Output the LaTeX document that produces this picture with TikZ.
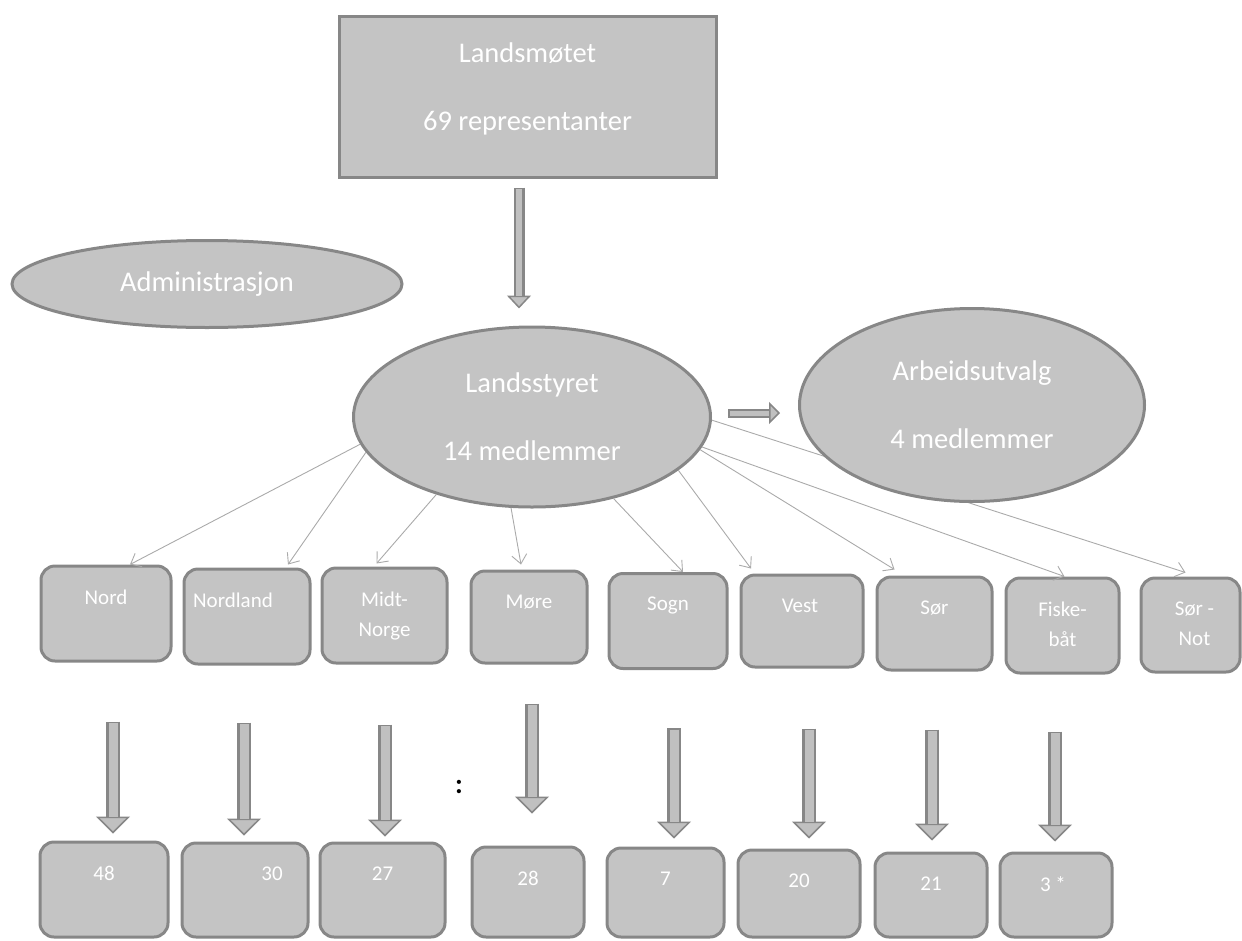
\documentclass[tikz,border=0pt]{standalone}
\usepackage{fontspec}
\setmainfont{Carlito}
\usetikzlibrary{arrows.meta,positioning,shapes.geometric}
\definecolor{orgfill}{RGB}{196,196,196}
\definecolor{orgline}{RGB}{135,135,135}
\definecolor{orgarrow}{RGB}{192,192,192}
\definecolor{orgthin}{RGB}{170,170,170}

\begin{document}
\begin{tikzpicture}[x=1pt, y=-1pt, >=Stealth,
  avd/.style={draw=orgline, fill=orgfill, line width=3pt, rounded corners=14pt, inner sep=0pt, minimum height=95pt},
  hub/.style={ellipse, draw=orgline, fill=orgfill, line width=3pt, inner sep=0pt, text=white, align=center, font=\fontsize{28.5}{34}\selectfont},
  lbl/.style={anchor=north, yshift=-25pt, inner sep=0pt, text=white, align=center, font=\fontsize{21}{30}\selectfont},
  feed/.style={draw=orgthin, line width=0.9pt, -{Straight Barb[length=9pt,width=15pt]}},
  blockarr/.style n args={4}{draw=orgline, line width=#1, -{Triangle[length=#4,width=#3,line width=1.5pt,fill=orgarrow]},
    postaction={draw=orgarrow, line width=#2, -, shorten >=#4, shorten <=1.5pt}},
  fat/.style={blockarr={14pt}{9pt}{34pt}{17pt}}]
  \useasboundingbox (0,0) rectangle (1242,940);
  % Landsmøtet
  \node[draw=orgline, fill=orgfill, line width=3pt, minimum width=377pt, minimum height=161pt,
    label={[text=white, align=center, font=\fontsize{28.5}{34}\selectfont, yshift=8pt]center:Landsmøtet\\[34pt]69 representanter}]
    (moete) at (527.5,96.5) {};
  \node[hub, minimum width=390pt, minimum height=87pt] (admin) at (207,284) {Administrasjon};
  \node[hub, minimum width=357pt, minimum height=180pt] (styret) at (532,417) {Landsstyret\\[34pt]14 medlemmer};
  \draw[blockarr={11pt}{6pt}{24pt}{13pt}] ([xshift=-8.5pt,yshift=-9pt]moete.south) -- ([xshift=-13pt,yshift=17pt]styret.north);
  % regioner
  \node[avd, minimum width=130pt, label={[lbl]north:Nord}] (nord) at (106,613.5) {};
  \node[avd, minimum width=126pt, label={[lbl,xshift=-14pt]north:Nordland}] (nordland) at (247,616.5) {};
  \node[avd, minimum width=125pt, label={[lbl]north:Midt-\\Norge}] (midt) at (384.5,615.5) {};
  \node[avd, minimum width=116pt, minimum height=92pt, label={[lbl]north:Møre}] (more) at (529,617) {};
  \node[avd, minimum width=118pt, label={[lbl]north:Sogn}] (sogn) at (668,621) {};
  \node[avd, minimum width=122pt, minimum height=92pt, label={[lbl,xshift=-2pt]north:Vest}] (vest) at (802,621) {};
  \node[avd, minimum width=115pt, minimum height=93pt, label={[lbl]north:Sør}] (sor) at (934.5,623.5) {};
  \node[avd, minimum width=113pt, label={[lbl]north:Fiske-\\båt}] (fiske) at (1062.5,625.5) {};
  \node[avd, minimum width=99pt, minimum height=94pt, label={[lbl,xshift=4pt]north:Sør -\\Not}] (sornot) at (1190.5,625) {};
  % styret til regioner
  \draw[feed] (styret.189) -- ([xshift=24pt]nord.north);
  \draw[feed] (styret.192) -- ([xshift=41pt,yshift=3pt]nordland.north);
  \draw[feed] (styret.219) -- ([xshift=-8pt,yshift=3pt]midt.north);
  \draw[feed] (styret.257) -- ([xshift=-8pt,yshift=5pt]more.north);
  \draw[feed] (styret.315) -- ([xshift=15pt]sogn.north);
  \draw[feed] (styret.340) -- ([xshift=-51pt,yshift=5pt]vest.north);
  \draw[feed] (styret.349) -- ([xshift=-40pt,yshift=6pt]sor.north);
  \draw[feed] (styret.350) -- ([xshift=2pt]fiske.north);
  \draw[feed] (styret.359) -- ([xshift=-5pt,yshift=4pt]sornot.north);
  % Arbeidsutvalg
  \node[hub, minimum width=345pt, minimum height=193pt] (arbeid) at (972,405) {Arbeidsutvalg\\[34pt]4 medlemmer};
  \draw[blockarr={9pt}{5pt}{22pt}{11pt}] ([xshift=16pt,yshift=4pt]styret.east) -- ([xshift=-18pt,yshift=-8pt]arbeid.west);
  % tall
  \node[avd, minimum width=128pt, label={[lbl]north:48}] (n48) at (104,889.5) {};
  \node[avd, minimum width=126pt, minimum height=94pt, label={[lbl,xshift=27pt]north:30}] (n30) at (245,890) {};
  \node[avd, minimum width=125pt, minimum height=94pt, label={[lbl]north:27}] (n27) at (382.5,890) {};
  \node[avd, minimum width=112pt, minimum height=90pt, label={[lbl]north:28}] (n28) at (528,892) {};
  \node[avd, minimum width=117pt, minimum height=89pt, label={[lbl]north:7}] (n7) at (665.5,892.5) {};
  \node[avd, minimum width=122pt, minimum height=87pt, label={[lbl]north:20}] (n20) at (799,893.5) {};
  \node[avd, minimum width=112pt, minimum height=84pt, label={[lbl]north:21}] (n21) at (931,895) {};
  \node[avd, minimum width=112pt, minimum height=84pt, label={[lbl,xshift=-3pt]north:3 *}] (n3) at (1056,895) {};
  \node[font=\fontsize{28}{34}\selectfont\bfseries] (kolon) at (459,787) {:};
  \draw[fat] ([xshift=7pt,yshift=-59pt]nord.south) -- ([xshift=9pt,yshift=7pt]n48.north);
  \draw[fat] ([xshift=-3pt,yshift=-57pt]nordland.south) -- ([xshift=-1pt,yshift=6pt]n30.north);
  \draw[fat] ([xshift=0.5pt,yshift=-60pt]midt.south) -- ([xshift=2.5pt,yshift=5pt]n27.north);
  \draw[fat] ([xshift=3pt,yshift=-39pt]more.south) -- ([xshift=4pt,yshift=32pt]n28.north);
  \draw[fat] ([xshift=6pt,yshift=-58pt]sogn.south) -- ([xshift=8.5pt,yshift=8pt]n7.north);
  \draw[fat] ([xshift=7pt,yshift=-60pt]vest.south) -- ([xshift=10pt,yshift=10pt]n20.north);
  \draw[fat] ([xshift=-2.5pt,yshift=-58pt]sor.south) -- ([xshift=1pt,yshift=11pt]n21.north);
  \draw[fat] ([xshift=-7.5pt,yshift=-57pt]fiske.south) -- ([xshift=-1pt,yshift=10pt]n3.north);
\end{tikzpicture}
\end{document}
